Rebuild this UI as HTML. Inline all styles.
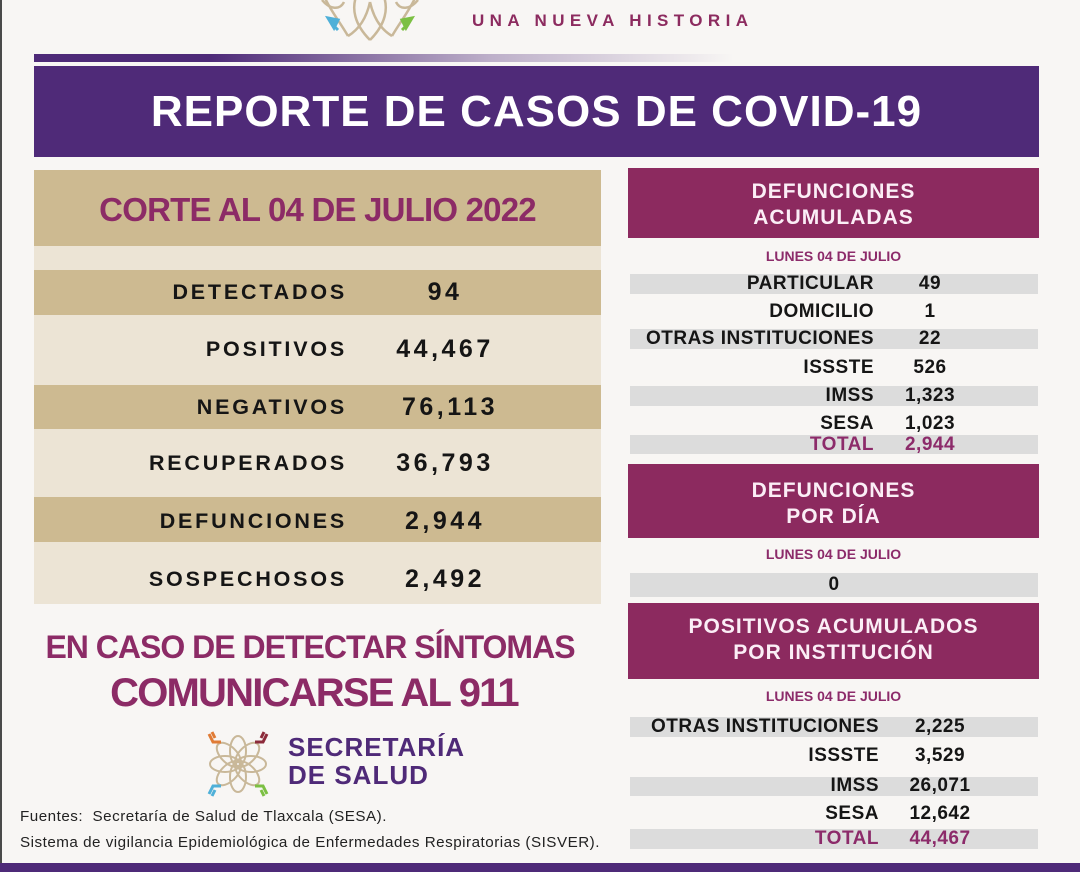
<!DOCTYPE html>
<html><head><meta charset="utf-8">
<style>
*{margin:0;padding:0;box-sizing:border-box}
html,body{width:1080px;height:872px;overflow:hidden;background:#f8f6f4}
body{position:relative;font-family:"Liberation Sans",sans-serif;font-weight:bold}
.a{position:absolute}
.lborder{left:0;top:0;width:2px;height:872px;background:#4a4a4a}
.gbar{left:34px;top:54px;width:700px;height:8px;background:linear-gradient(to right,#4e2a78 0%,#4e2a78 25%,rgba(78,42,120,0.35) 65%,rgba(78,42,120,0) 100%)}
.title{left:34px;top:66px;width:1005px;height:91px;background:#4f2a78;color:#fff;font-size:44px;letter-spacing:1px;text-align:center;line-height:91px}
.beigeH{left:34px;top:170px;width:567px;height:76px;background:#cdba91;color:#8c2b66;font-size:33px;letter-spacing:-0.8px;text-align:center;line-height:80px}
.lightB{left:34px;width:567px;background:#ece4d5}
.darkB{left:34px;width:567px;background:#cdba91}
.llab{width:347px;left:0;text-align:right;font-size:21.5px;letter-spacing:2.8px;color:#151515;line-height:30px}
.lval{left:365px;width:160px;text-align:center;font-size:25px;letter-spacing:3.5px;color:#151515;line-height:30px}
.pink{left:628px;width:411px;background:#8c2a5f;color:#fbeef6;font-size:21px;letter-spacing:1px;text-align:center;line-height:26px}
.lunes{left:628px;width:411px;text-align:center;font-size:14px;color:#8c2b6a;line-height:18px}
.gray{left:630px;width:408px;background:#dcdcdc}
.rlab{left:500px;text-align:right;font-size:19px;letter-spacing:0.5px;color:#151515;line-height:22px}
.rval{text-align:center;font-size:19px;letter-spacing:0.5px;color:#151515;line-height:22px;width:120px}
.tot{color:#8c2b6a}
.msg{left:0;width:620px;text-align:center;color:#8c2b66}
.foot{left:20px;font-weight:normal;font-size:15.2px;letter-spacing:0.5px;color:#222;line-height:18px}
.sec{left:288px;color:#4f2a78;font-size:26px;letter-spacing:1px;line-height:28px}
.una{left:472px;top:10px;color:#8c2b5f;font-size:17px;letter-spacing:5.4px;line-height:22px}
.bbar{left:0;top:863px;width:1080px;height:9px;background:#4e2a78}
</style></head><body>
<div class="a lborder"></div>

<!-- top logo partial -->
<svg class="a" style="left:300px;top:0" width="140" height="48" viewBox="0 0 140 48">
  <g fill="none" stroke="#c9b899" stroke-width="2.5">
    <path d="M70 40 C55 25 50 8 58 -8"/>
    <path d="M70 40 C85 25 90 8 82 -8"/>
    <path d="M48 36 C40 22 30 10 24 -4"/>
    <path d="M92 36 C100 22 110 10 116 -4"/>
    <path d="M48 36 C58 30 66 20 70 2"/>
    <path d="M92 36 C82 30 74 20 70 2"/>
    <path d="M22 0 C30 10 40 10 44 2"/>
    <path d="M118 0 C110 10 100 10 96 2"/>
  </g>
  <path d="M28 18 l10 2 l-4 8 z M32 24 l6 6" fill="#4fb0d8" stroke="#4fb0d8" stroke-width="3"/>
  <path d="M112 18 l-10 2 l4 8 z M108 24 l-6 6" fill="#7cc043" stroke="#7cc043" stroke-width="3"/>
</svg>
<div class="a una">UNA NUEVA HISTORIA</div>

<div class="a gbar"></div>
<div class="a title">REPORTE DE CASOS DE COVID-19</div>

<!-- left table -->
<div class="a beigeH">CORTE AL 04 DE JULIO 2022</div>
<div class="a lightB" style="top:246px;height:24px"></div>
<div class="a darkB" style="top:270px;height:45px"></div>
<div class="a lightB" style="top:315px;height:70px"></div>
<div class="a darkB" style="top:385px;height:44px"></div>
<div class="a lightB" style="top:429px;height:68px"></div>
<div class="a darkB" style="top:497px;height:45px"></div>
<div class="a lightB" style="top:542px;height:62px"></div>

<div class="a llab" style="top:277px">DETECTADOS</div><div class="a lval" style="top:277px">94</div>
<div class="a llab" style="top:334px">POSITIVOS</div><div class="a lval" style="top:334px">44,467</div>
<div class="a llab" style="top:392px">NEGATIVOS</div><div class="a lval" style="top:392px;left:370px">76,113</div>
<div class="a llab" style="top:448px">RECUPERADOS</div><div class="a lval" style="top:448px">36,793</div>
<div class="a llab" style="top:506px">DEFUNCIONES</div><div class="a lval" style="top:506px">2,944</div>
<div class="a llab" style="top:564px">SOSPECHOSOS</div><div class="a lval" style="top:564px">2,492</div>

<!-- right: defunciones acumuladas -->
<div class="a pink" style="top:168px;height:70px;padding-top:11px">DEFUNCIONES<br>ACUMULADAS</div>
<div class="a lunes" style="top:247px">LUNES 04 DE JULIO</div>
<div class="a gray" style="top:274px;height:20px"></div>
<div class="a gray" style="top:329px;height:20px"></div>
<div class="a gray" style="top:386px;height:20px"></div>
<div class="a gray" style="top:435px;height:19px"></div>
<div class="a rlab" style="top:273px;width:374px">PARTICULAR</div><div class="a rval" style="top:273px;left:870px">49</div>
<div class="a rlab" style="top:301px;width:374px">DOMICILIO</div><div class="a rval" style="top:301px;left:870px">1</div>
<div class="a rlab" style="top:328px;width:374px">OTRAS INSTITUCIONES</div><div class="a rval" style="top:328px;left:870px">22</div>
<div class="a rlab" style="top:357px;width:374px">ISSSTE</div><div class="a rval" style="top:357px;left:870px">526</div>
<div class="a rlab" style="top:385px;width:374px">IMSS</div><div class="a rval" style="top:385px;left:870px">1,323</div>
<div class="a rlab" style="top:413px;width:374px">SESA</div><div class="a rval" style="top:413px;left:870px">1,023</div>
<div class="a rlab tot" style="top:434px;width:374px">TOTAL</div><div class="a rval tot" style="top:434px;left:870px">2,944</div>

<!-- defunciones por dia -->
<div class="a pink" style="top:464px;height:74px;padding-top:14px">DEFUNCIONES<br>POR DÍA</div>
<div class="a lunes" style="top:545px">LUNES 04 DE JULIO</div>
<div class="a gray" style="top:573px;height:24px"></div>
<div class="a rval" style="top:574px;left:774px">0</div>

<!-- positivos por institucion -->
<div class="a pink" style="top:603px;height:76px;padding-top:11px">POSITIVOS ACUMULADOS<br>POR INSTITUCIÓN</div>
<div class="a lunes" style="top:687px">LUNES 04 DE JULIO</div>
<div class="a gray" style="top:717px;height:20px"></div>
<div class="a gray" style="top:777px;height:19px"></div>
<div class="a gray" style="top:829px;height:20px"></div>
<div class="a rlab" style="top:716px;width:379px">OTRAS INSTITUCIONES</div><div class="a rval" style="top:716px;left:880px">2,225</div>
<div class="a rlab" style="top:745px;width:379px">ISSSTE</div><div class="a rval" style="top:745px;left:880px">3,529</div>
<div class="a rlab" style="top:775px;width:379px">IMSS</div><div class="a rval" style="top:775px;left:880px">26,071</div>
<div class="a rlab" style="top:803px;width:379px">SESA</div><div class="a rval" style="top:803px;left:880px">12,642</div>
<div class="a rlab tot" style="top:828px;width:379px">TOTAL</div><div class="a rval tot" style="top:828px;left:880px">44,467</div>

<!-- message -->
<div class="a msg" style="top:628px;font-size:32px;letter-spacing:-1px;line-height:38px">EN CASO DE DETECTAR SÍNTOMAS</div>
<div class="a msg" style="top:670px;font-size:40px;letter-spacing:-1.8px;line-height:46px;left:4px">COMUNICARSE AL 911</div>

<!-- secretaria logo -->
<svg class="a" style="left:203px;top:730px" width="70" height="68" viewBox="0 0 70 68">
  <g fill="none" stroke="#c9b899" stroke-width="2" transform="translate(35,34)">
    <ellipse cx="0" cy="-13" rx="8" ry="15"/>
    <ellipse cx="0" cy="-13" rx="8" ry="15" transform="rotate(45)"/>
    <ellipse cx="0" cy="-13" rx="8" ry="15" transform="rotate(90)"/>
    <ellipse cx="0" cy="-13" rx="8" ry="15" transform="rotate(135)"/>
    <ellipse cx="0" cy="-13" rx="8" ry="15" transform="rotate(180)"/>
    <ellipse cx="0" cy="-13" rx="8" ry="15" transform="rotate(225)"/>
    <ellipse cx="0" cy="-13" rx="8" ry="15" transform="rotate(270)"/>
    <ellipse cx="0" cy="-13" rx="8" ry="15" transform="rotate(315)"/>
  </g>
  <path d="M6 4 l4 8 l8 0 M9 2 l3 6" fill="none" stroke="#e07b35" stroke-width="3"/>
  <path d="M64 4 l-4 8 l-8 0 M61 2 l-3 6" fill="none" stroke="#8c2a3a" stroke-width="3"/>
  <path d="M6 64 l4 -8 l8 0 M9 66 l3 -6" fill="none" stroke="#4fb0d8" stroke-width="3"/>
  <path d="M64 64 l-4 -8 l-8 0 M61 66 l-3 -6" fill="none" stroke="#7cc043" stroke-width="3"/>
</svg>
<div class="a sec" style="top:733px">SECRETARÍA</div>
<div class="a sec" style="top:761px">DE SALUD</div>

<div class="a foot" style="top:808px">Fuentes:&nbsp; Secretaría de Salud de Tlaxcala (SESA).</div>
<div class="a foot" style="top:834px">Sistema de vigilancia Epidemiológica de Enfermedades Respiratorias (SISVER).</div>

<div class="a bbar"></div>
</body></html>
